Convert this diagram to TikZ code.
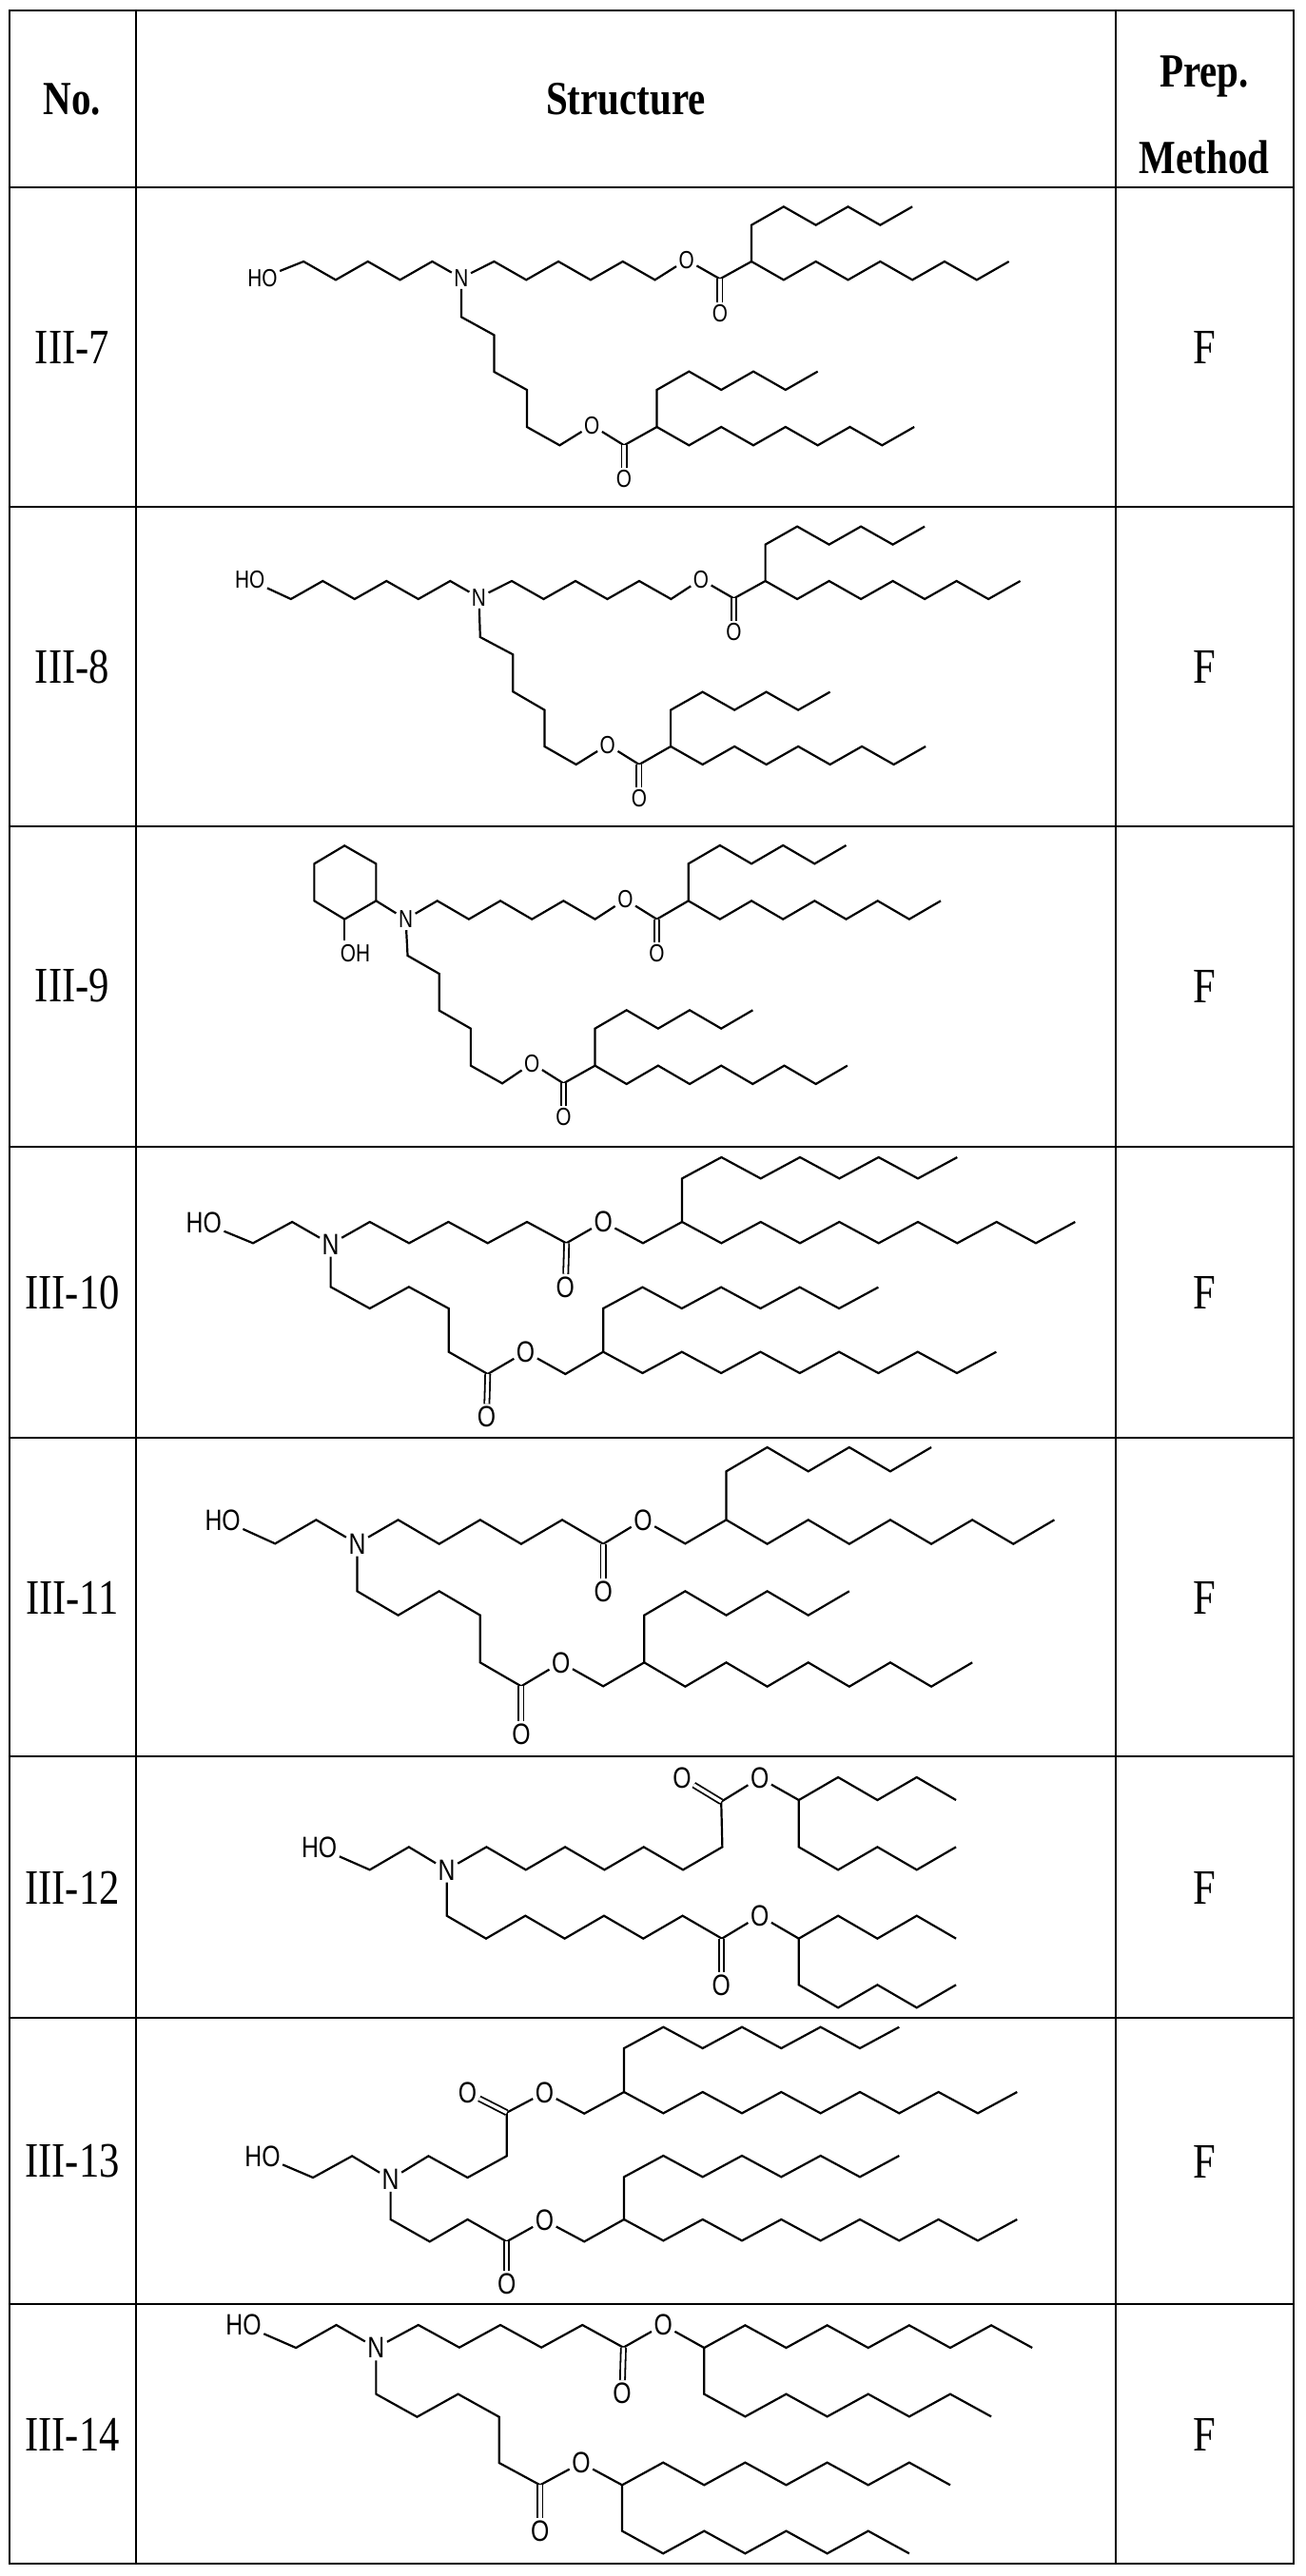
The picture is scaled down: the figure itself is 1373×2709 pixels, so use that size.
\documentclass[tikz,border=0pt]{standalone}
\usepackage{fontspec}
\setmainfont{Liberation Serif}[FakeStretch=0.82]
\newfontfamily\atomfont{Liberation Sans}[FakeStretch=0.8]
\usetikzlibrary{positioning}

% zigzag chains, first step up or down
\newcommand\zzup[1]{\foreach \k in {1,...,#1}{ -- ++(\bx,{\by*(1-2*mod(\k,2))}) }}
\newcommand\zzdn[1]{\foreach \k in {1,...,#1}{ -- ++(\bx,{\by*(2*mod(\k,2)-1)}) }}

\tikzset{
    grid/.style={line width=2.6pt},
    label/.style={font=\fontsize{52}{60}\selectfont},
    headlabel/.style={font=\bfseries\fontsize{50}{58}\selectfont},
    bond/.style={line width=2.2pt, line join=miter},
    dbond/.style={double, double distance=3.4pt, line width=1.8pt},
    atom/.style={font=\atomfont\fontsize{26}{30}\selectfont, inner sep=1.5pt},
    bigatom/.style={font=\atomfont\fontsize{31}{36}\selectfont, inner sep=1.5pt}
}

\begin{document}
\begin{tikzpicture}[x=1pt, y=-1pt]
\useasboundingbox (0,0) rectangle (1373,2709);

% table
\draw[grid] (10,11) rectangle (1360,2696);
\draw[grid] (143,11) -- (143,2696);
\draw[grid] (1173,11) -- (1173,2696);
\foreach \yy in {197,533,869,1206,1512,1847,2122,2423}
    \draw[grid] (10,\yy) -- (1360,\yy);

% header
\node[headlabel] (hno) at (76,104) {No.};
\node[headlabel] (hstruct) at (658,104) {Structure};
\node[headlabel] (hprep) at (1266,80) {Prep.};
\node[headlabel] (hmeth) at (1266,165) {Method};

% row labels
\foreach \nm/\yy [count=\i] in {III-7/365, III-8/701, III-9/1037, III-10/1359, III-11/1680, III-12/1985, III-13/2273, III-14/2560} {
    \node[label] (no\i) at (76,\yy) {\nm};
    \node[label] (meth\i) at (1266,\yy) {F};
}

% III-7
\begin{scope}[shift={(140,195)}, x=0.6633pt, y=-0.3333pt, bond]
\def\bx{51}\def\by{58}
\node[atom] (ho) at (205,292) {HO};
\node[atom] (n) at (520,292) {N};
\node[atom] (oa) at (877,235) {O};
\node[atom] (oad) at (930,405) {O};
\node[atom] (ob) at (727,757) {O};
\node[atom] (obd) at (778,925) {O};
\draw (ho) -- (270,240) \zzdn{4} -- (n);
\draw (n) -- (572,240) \zzdn{5} -- (oa);
\draw (oa) -- (930,295) -- (980,240) -- (980,125) \zzup{5};
\draw (980,240) \zzdn{8};
\draw[dbond] (930,295) -- (oad);
\draw (n) -- (520,415) -- (572,472) -- (572,588) -- (624,645) -- (624,762) -- (676,820) -- (ob);
\draw (ob) -- (778,820) -- (830,762) -- (830,645) \zzup{5};
\draw (830,762) \zzdn{8};
\draw[dbond] (778,820) -- (obd);
\end{scope}

% III-8
\begin{scope}[shift={(140,530)}, x=0.6633pt, y=-0.3333pt, bond]
\def\bx{50.5}\def\by{57}
\node[atom] (ho) at (185,240) {HO};
\node[atom] (n) at (548,295) {N};
\node[atom] (oa) at (900,238) {O};
\node[atom] (oad) at (952,405) {O};
\node[atom] (ob) at (752,760) {O};
\node[atom] (obd) at (802,930) {O};
\draw (ho) -- (250,300) \zzup{5} -- (n);
\draw (n) -- (600,243) \zzdn{5} -- (oa);
\draw (oa) -- (952,298) -- (1002,243) -- (1002,128) \zzup{5};
\draw (1002,243) \zzdn{8};
\draw[dbond] (952,298) -- (oad);
\draw (n) -- (550,420) -- (602,475) -- (602,592) -- (652,650) -- (652,765) -- (702,822) -- (ob);
\draw (ob) -- (802,822) -- (852,765) -- (852,650) \zzup{5};
\draw (852,765) \zzdn{8};
\draw[dbond] (802,822) -- (obd);
\end{scope}

% III-9
\begin{scope}[shift={(140,870)}, x=0.6633pt, y=-0.3333pt, bond]
\def\bx{50}\def\by{58}
\node[atom] (oh) at (352,398) {OH};
\node[atom] (n) at (432,290) {N};
\node[atom] (oa) at (780,228) {O};
\node[atom] (oad) at (830,398) {O};
\node[atom] (ob) at (632,745) {O};
\node[atom] (obd) at (682,915) {O};
\draw (335,58) -- (385,115) -- (385,232) -- (335,290) -- (287,232) -- (287,115) -- cycle;
\draw (385,232) -- (n);
\draw (335,290) -- (335,356);
\draw (n) -- (482,232) \zzdn{5} -- (oa);
\draw (oa) -- (830,290) -- (880,232) -- (880,115) \zzup{5};
\draw (880,232) \zzdn{8};
\draw[dbond] (830,290) -- (oad);
\draw (n) -- (435,405) -- (485,462) -- (485,578) -- (535,635) -- (535,752) -- (585,808) -- (ob);
\draw (ob) -- (682,808) -- (732,752) -- (732,635) \zzup{5};
\draw (732,752) \zzdn{8};
\draw[dbond] (682,808) -- (obd);
\end{scope}

% III-10
\begin{scope}[shift={(140,1200)}, x=0.6633pt, y=-0.3333pt, bond]
\def\bx{62.3}\def\by{67}
\node[bigatom] (ho) at (112,258) {HO};
\node[bigatom] (n) at (313,325) {N};
\node[bigatom] (oa) at (745,255) {O};
\node[bigatom] (oad) at (685,460) {O};
\node[bigatom] (ob) at (622,665) {O};
\node[bigatom] (obd) at (560,870) {O};
\draw (ho) -- (190,322) -- (252,255) -- (n);
\draw (n) -- (375,255) \zzdn{5} -- (oa);
\draw (oa) -- (808,322) -- (870,255) -- (870,118) \zzup{7};
\draw (870,255) \zzdn{10};
\draw[dbond] (687,322) -- (oad);
\draw (n) -- (313,460) -- (375,528) -- (437,460) -- (500,528) -- (500,665) -- (562,735) -- (ob);
\draw (ob) -- (685,735) -- (745,665) -- (745,528) \zzup{7};
\draw (745,665) \zzdn{10};
\draw[dbond] (562,735) -- (obd);
\end{scope}

% III-11
\begin{scope}[shift={(140,1510)}, x=0.6633pt, y=-0.3333pt, bond]
\def\bx{65}\def\by{76}
\node[bigatom] (ho) at (142,265) {HO};
\node[bigatom] (n) at (355,340) {N};
\node[bigatom] (oa) at (808,265) {O};
\node[bigatom] (oad) at (745,492) {O};
\node[bigatom] (ob) at (678,715) {O};
\node[bigatom] (obd) at (615,942) {O};
\draw (ho) -- (225,340) -- (290,265) -- (n);
\draw (n) -- (420,265) \zzdn{5} -- (oa);
\draw (oa) -- (875,340) -- (940,265) -- (940,112) \zzup{5};
\draw (940,265) \zzdn{8};
\draw[dbond] (745,341) -- (oad);
\draw (n) -- (355,490) -- (420,566) -- (485,490) -- (550,566) -- (550,715) -- (615,790) -- (ob);
\draw (ob) -- (745,790) -- (810,715) -- (810,566) \zzup{5};
\draw (810,715) \zzdn{8};
\draw[dbond] (615,790) -- (obd);
\end{scope}

% III-12
\begin{scope}[shift={(140,1848)}, x=0.6633pt, y=-0.3333pt, bond]
\def\bx{62.3}\def\by{72}
\node[bigatom] (ho) at (295,285) {HO};
\node[bigatom] (n) at (497,355) {N};
\node[bigatom] (oa) at (993,65) {O};
\node[bigatom] (oad) at (870,65) {O};
\node[bigatom] (ob) at (993,500) {O};
\node[bigatom] (obd) at (932,720) {O};
\draw (ho) -- (375,355) -- (437,283) -- (n);
\draw (n) -- (560,283) \zzdn{6} -- (932,140) -- (oa);
\draw[dbond] (932,140) -- (oad);
\draw (oa) -- (1055,135) \zzup{4};
\draw (1055,135) -- (1055,283) \zzdn{4};
\draw (n) -- (497,500) \zzdn{7} -- (ob);
\draw[dbond] (932,572) -- (obd);
\draw (ob) -- (1055,572) \zzup{4};
\draw (1055,572) -- (1055,718) \zzdn{4};
\end{scope}

% III-13
\begin{scope}[shift={(140,2160)}, x=0.6633pt, y=-0.3333pt, bond]
\def\bx{62.3}\def\by{67}
\node[bigatom] (ho) at (205,322) {HO};
\node[bigatom] (n) at (408,395) {N};
\node[bigatom] (oa) at (652,122) {O};
\node[bigatom] (oad) at (530,122) {O};
\node[bigatom] (ob) at (652,525) {O};
\node[bigatom] (obd) at (592,725) {O};
\draw (ho) -- (285,390) -- (347,322) -- (n);
\draw (n) -- (468,322) -- (530,390) -- (592,322) -- (592,185) -- (oa);
\draw[dbond] (592,185) -- (oad);
\draw (oa) -- (715,188) -- (778,120) -- (778,-18) \zzup{7};
\draw (778,120) \zzdn{10};
\draw (n) -- (408,522) -- (470,592) -- (530,522) -- (592,592) -- (ob);
\draw[dbond] (592,592) -- (obd);
\draw (ob) -- (715,592) -- (778,522) -- (778,388) \zzup{7};
\draw (778,522) \zzdn{10};
\end{scope}

% III-14
\begin{scope}[shift={(140,2425)}, x=0.6633pt, y=-0.3333pt, bond]
\def\bx{65}\def\by{71}
\node[bigatom] (ho) at (175,60) {HO};
\node[bigatom] (n) at (385,132) {N};
\node[bigatom] (oa) at (840,60) {O};
\node[bigatom] (oad) at (775,275) {O};
\node[bigatom] (ob) at (710,495) {O};
\node[bigatom] (obd) at (645,710) {O};
\draw (ho) -- (258,132) -- (322,60) -- (n);
\draw (n) -- (452,60) \zzdn{5} -- (oa);
\draw[dbond] (777,131) -- (oad);
\draw (oa) -- (905,132) \zzup{8};
\draw (905,132) -- (905,278) \zzdn{7};
\draw (n) -- (385,278) -- (450,350) -- (515,278) -- (580,350) -- (580,495) -- (645,565) -- (ob);
\draw[dbond] (645,565) -- (obd);
\draw (ob) -- (775,565) \zzup{8};
\draw (775,565) -- (775,710) \zzdn{7};
\end{scope}

\end{tikzpicture}
\end{document}
